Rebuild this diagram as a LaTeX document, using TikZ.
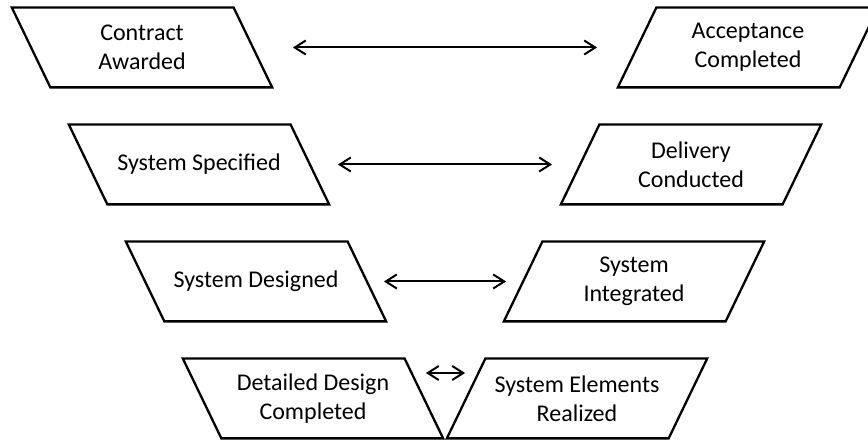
\documentclass[tikz,border=0pt]{standalone}
\usepackage{fontspec}
\setmainfont{Carlito}
\usetikzlibrary{positioning, arrows.meta}

\tikzset{
	para/.style={minimum width=110.5pt, minimum height=39.5pt, inner sep=1pt, align=center,
		font=\fontsize{12pt}{14.6pt}\selectfont},
	leftpara/.style={para, append after command={\pgfextra{
		\draw[line width=1.15pt]	([xshift=-9.625pt]\tikzlastnode.north west)
			--	([xshift=-9.625pt]\tikzlastnode.north east)
			--	([xshift=9.625pt]\tikzlastnode.south east)
			--	([xshift=9.625pt]\tikzlastnode.south west)	--	cycle;}}},
	rightpara/.style={para, append after command={\pgfextra{
		\draw[line width=1.15pt]	([xshift=9.625pt]\tikzlastnode.north west)
			--	([xshift=9.625pt]\tikzlastnode.north east)
			--	([xshift=-9.625pt]\tikzlastnode.south east)
			--	([xshift=-9.625pt]\tikzlastnode.south west)	--	cycle;}}},
	link/.style={<->, line width=1pt}
}

\begin{document}
\begin{tikzpicture}[>={Straight Barb[length=5.5pt, width=7pt]}, on grid]
	\useasboundingbox (0,0) rectangle (434pt,-221pt);
	% left side of the V
	\node[leftpara]	(CA)	at (71pt,-23.75pt)
		{Contract\\Awarded};
	\node[leftpara]	(SS)	[below right=58.5pt and 28.5pt of CA]
		{System Specified};
	\node[leftpara]	(SD)	[below right=58.5pt and 28.5pt of SS]
		{System Designed};
	\node[leftpara]	(DD)	[below right=58.5pt and 28.5pt of SD]
		{Detailed Design\\Completed};
	% right side of the V
	\node[rightpara]	(AC)	[right=303pt of CA]
		{Acceptance\\Completed};
	\node[rightpara]	(DC)	[right=246pt of SS]
		{Delivery\\Conducted};
	\node[rightpara]	(SI)	[right=189pt of SD]
		{System\\Integrated};
	\node[rightpara]	(SE)	[right=132pt of DD]
		{System Elements\\Realized};
	% links across
	\draw[link]	([xshift=20pt]CA.east)	--	([xshift=-20pt]AC.west);
	\draw[link]	([xshift=14pt]SS.east)	--	([xshift=-14pt]DC.west);
	\draw[link]	([xshift=8.5pt]SD.east)	--	([xshift=-8.5pt]SI.west);
	\draw[link]	([shift={(1pt,12.75pt)}]DD.east)	--	([shift={(-0.5pt,12.75pt)}]SE.west);
\end{tikzpicture}
\end{document}
